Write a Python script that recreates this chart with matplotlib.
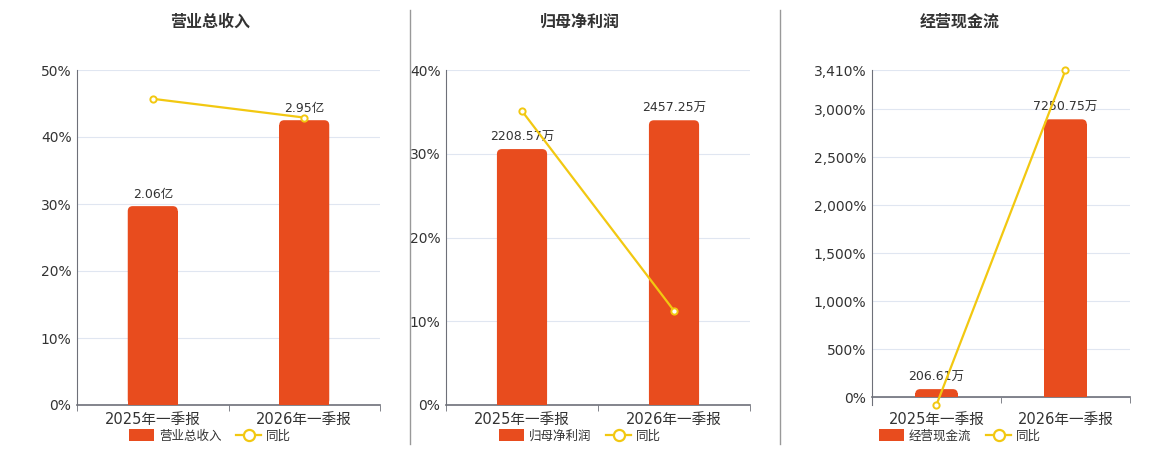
import matplotlib
matplotlib.use("Agg")
import matplotlib.pyplot as plt
from matplotlib.patches import FancyBboxPatch, Patch
from matplotlib.lines import Line2D
from matplotlib.ticker import FuncFormatter

plt.rcParams['font.family'] = ['DejaVu Sans', 'Noto Sans CJK SC']

periods = ["2025年一季报", "2026年一季报"]

titles = ["营业总收入", "归母净利润", "经营现金流"]
bar_values = [[2.06, 2.95], [2208.57, 2457.25], [206.61, 7250.75]]
bar_labels = [["2.06亿", "2.95亿"], ["2208.57万", "2457.25万"], ["206.61万", "7250.75万"]]
yoy_values = [[45.7, 42.9], [35.1, 11.26], [-80, 3409.5]]

pct_limits = [(0, 50), (0, 40), (-83, 3410)]
pct_ticks = [[0, 10, 20, 30, 40, 50], [0, 10, 20, 30, 40],
             [0, 500, 1000, 1500, 2000, 2500, 3000, 3410]]
bar_tops = [3.47, 2891, 8538]

BAR = "#E84C1E"
LINE = "#F2C811"
GRID = "#E0E6F1"
AXIS = "#6E7079"
TEXT = "#333333"

W, H = 1160, 450
fig = plt.figure(figsize=(W / 100, H / 100), dpi=100)

# axes boxes in pixels: left, right
boxes = [(77, 380), (446, 750), (872, 1130)]
centers = [210, 580, 960]
top_px, bot_px = 70, 405

for i in range(3):
    l, r = boxes[i]
    rect = [l / W, 1 - bot_px / H, (r - l) / W, (bot_px - top_px) / H]
    ax = fig.add_axes(rect)
    axb = ax.twinx()
    axl = ax.twinx()

    lo, hi = pct_limits[i]
    ax.set_ylim(lo, hi)
    axl.set_ylim(lo, hi)
    axb.set_ylim(lo / hi * bar_tops[i], bar_tops[i])
    for a in (ax, axb, axl):
        a.set_xlim(-0.5, 1.5)

    # percentage axis with grid
    ax.set_yticks(pct_ticks[i])
    ax.yaxis.set_major_formatter(FuncFormatter(lambda v, p: f"{v:,.0f}%"))
    ax.tick_params(axis='y', length=0, labelsize=10, labelcolor=TEXT, pad=4)
    ax.grid(axis='y', color=GRID, linewidth=0.8)
    ax.set_axisbelow(True)
    for s in ('top', 'right'):
        ax.spines[s].set_visible(False)
    ax.spines['left'].set_color(AXIS)
    ax.spines['bottom'].set_color(AXIS)
    ax.spines['bottom'].set_linewidth(1.2)
    ax.set_xticks([0, 1])
    ax.set_xticklabels(periods)
    ax.set_xticks([-0.5, 0.5, 1.5], minor=True)
    ax.tick_params(axis='x', which='major', length=0, labelsize=10.5,
                   labelcolor=TEXT, pad=5 if lo == 0 else 11)
    ax.tick_params(axis='x', which='minor', length=4, color=AXIS)
    if lo < 0:
        ax.spines['bottom'].set_position(('data', 0))

    # bars
    axb.axis('off')
    width = 0.33
    px_y = (bot_px - top_px) / (bar_tops[i] - lo / hi * bar_tops[i])
    r_px = 5
    rx = r_px / ((r - l) / 2.0)
    ry = r_px / px_y
    for x, v, lab in zip(range(2), bar_values[i], bar_labels[i]):
        rr = min(ry, v / 2)
        axb.bar(x, v - rr, width=width, color=BAR, zorder=2)
        patch = FancyBboxPatch((x - width / 2, 0), width, v,
                               boxstyle=f"round,pad=0,rounding_size={rx}",
                               mutation_aspect=ry / rx,
                               facecolor=BAR, edgecolor='none', zorder=2)
        axb.add_patch(patch)
        axb.annotate(lab, (x, v), xytext=(0, 4), textcoords='offset points',
                     ha='center', va='bottom', fontsize=9, color=TEXT, zorder=3)

    # yoy line
    axl.axis('off')
    axl.plot(range(2), yoy_values[i], color=LINE, linewidth=1.6,
             marker='o', markersize=4.5, markerfacecolor='white',
             markeredgecolor=LINE, markeredgewidth=1.4, zorder=5, clip_on=False)

    fig.text(centers[i] / W, 1 - 22 / H, titles[i], ha='center', va='center',
             fontsize=11.5, fontweight='bold', color=TEXT)

    handles = [Patch(facecolor=BAR, edgecolor='none'),
               Line2D([], [], color=LINE, linewidth=1.6, marker='o', markersize=8,
                      markerfacecolor='white', markeredgecolor=LINE, markeredgewidth=1.6)]
    fig.legend(handles, [titles[i], "同比"], loc='center',
               bbox_to_anchor=(centers[i] / W, 1 - 436 / H), ncol=2, frameon=False,
               fontsize=9, handlelength=2.0, handleheight=1.1, columnspacing=1.2,
               handletextpad=0.4, labelcolor=TEXT)

# panel separators
for xs in (410, 780):
    fig.add_artist(Line2D([xs / W, xs / W], [1 - 10 / H, 1 - 444 / H],
                          color="#999999", linewidth=1))

fig.savefig("out.png", dpi=100)
